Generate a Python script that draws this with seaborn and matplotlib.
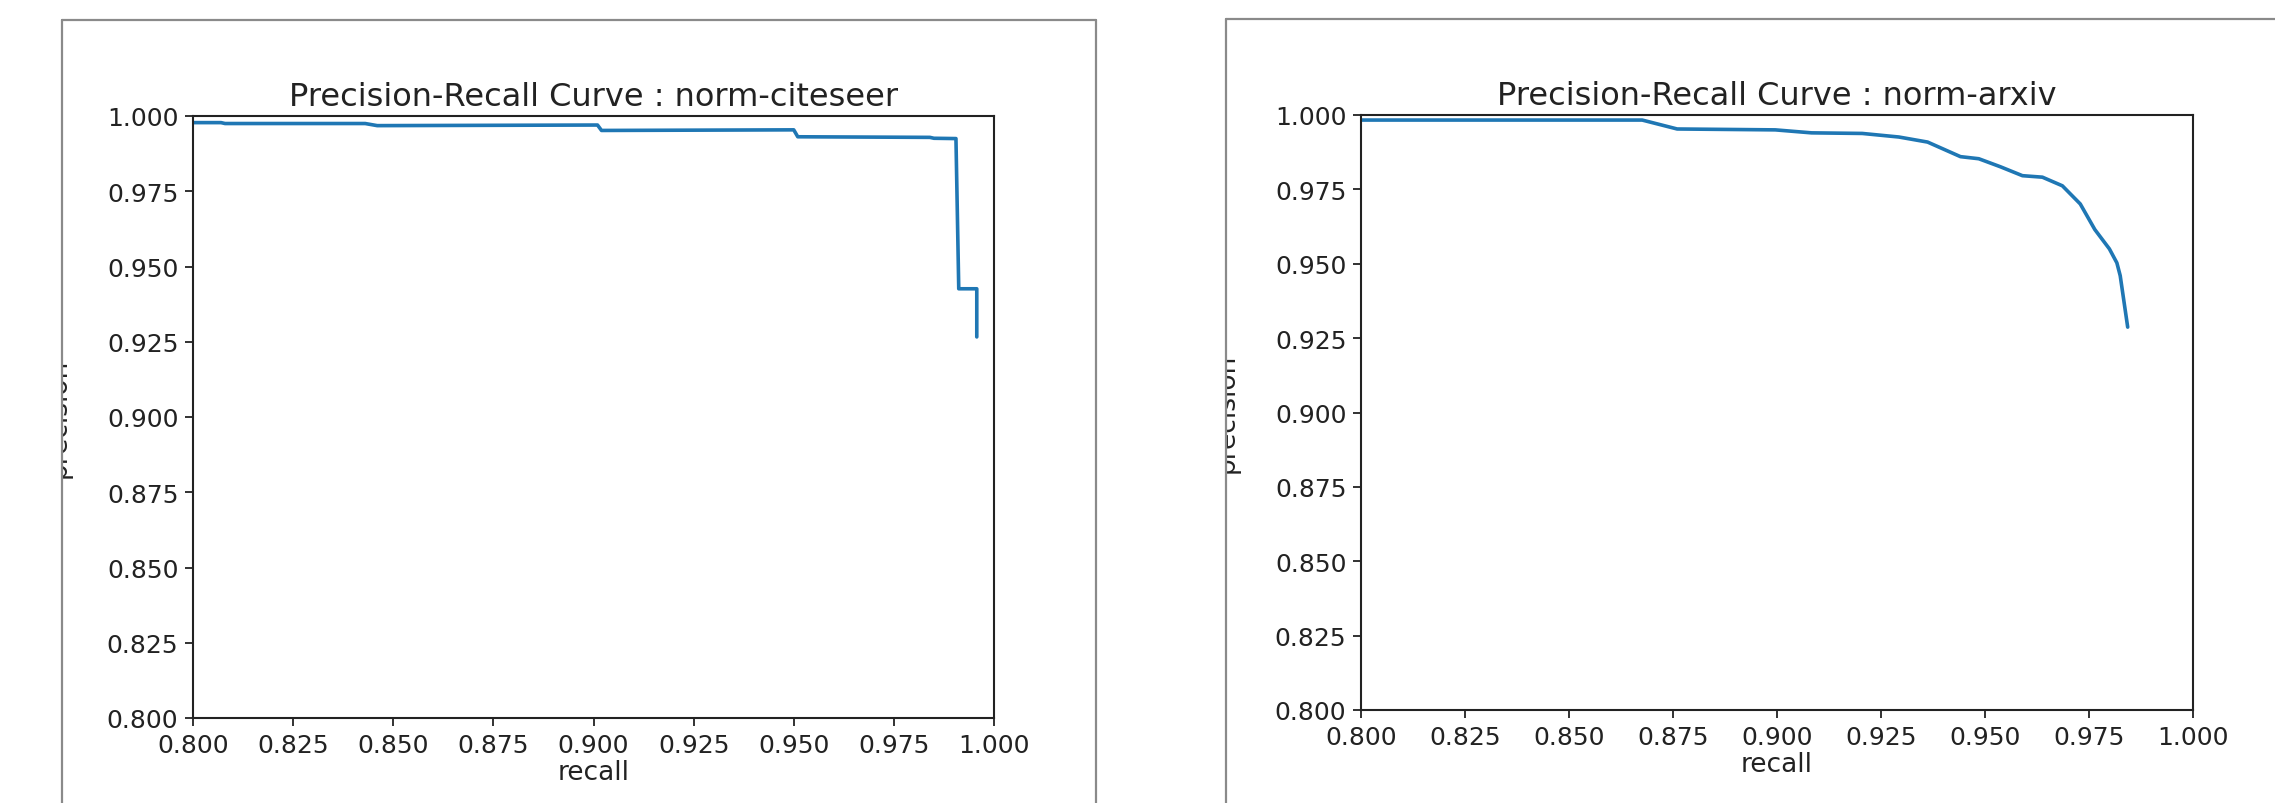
import numpy as np
import pandas as pd
import matplotlib
matplotlib.use('Agg')
import matplotlib.pyplot as plt
import seaborn as sns
from matplotlib.patches import Rectangle
from matplotlib.lines import Line2D

# values
cite_recall = [0.800, 0.807, 0.808, 0.843, 0.846, 0.901, 0.902, 0.950, 0.951,
               0.984, 0.985, 0.9905, 0.9912, 0.9957, 0.9957]
cite_precision = [0.9978, 0.9978, 0.9975, 0.9975, 0.9968, 0.9970, 0.9952, 0.9954, 0.9931,
                  0.9929, 0.9926, 0.9925, 0.9426, 0.9426, 0.9266]

arxiv_recall = [0.800, 0.8676, 0.876, 0.8996, 0.9083, 0.9205, 0.9293, 0.9362, 0.9441,
                0.9485, 0.9537, 0.959, 0.9638, 0.9686, 0.9729, 0.9764, 0.9799,
                0.9817, 0.9825, 0.9843]
arxiv_precision = [0.9983, 0.9983, 0.9953, 0.9950, 0.9940, 0.9938, 0.9926, 0.9909, 0.9860,
                   0.9853, 0.9826, 0.9796, 0.9791, 0.9762, 0.9701, 0.9615, 0.9550,
                   0.9503, 0.9460, 0.9287]

titles = ['Precision-Recall Curve : norm-citeseer', 'Precision-Recall Curve : norm-arxiv']
ticks = [0.800, 0.825, 0.850, 0.875, 0.900, 0.925, 0.950, 0.975, 1.000]

sns.set_style('ticks')
plt.rcParams['font.family'] = ['DejaVu Sans']

W, H = 2275, 804
fig = plt.figure(figsize=(W / 100, H / 100), dpi=100)
fig.patch.set_facecolor('white')

# axes boxes in pixels: left, top, right, bottom
boxes = [(193, 117, 994, 719), (1361, 116, 2193, 711)]
label_x = [-0.151, -0.1454]

datasets = [
    pd.DataFrame({'recall': cite_recall, 'precision': cite_precision}),
    pd.DataFrame({'recall': arxiv_recall, 'precision': arxiv_precision}),
]

for i, df in enumerate(datasets):
    l, t, r, b = boxes[i]
    ax = fig.add_axes([l / W, (H - b) / H, (r - l) / W, (b - t) / H])
    sns.lineplot(data=df, x='recall', y='precision', ax=ax, color='#1f77b4',
                 linewidth=2.6, sort=False, estimator=None)
    ax.set_xlim(0.8, 1.0)
    ax.set_ylim(0.8, 1.0)
    ax.set_xticks(ticks)
    ax.set_yticks(ticks)
    ax.set_xticklabels([f'{v:.3f}' for v in ticks])
    ax.set_yticklabels([f'{v:.3f}' for v in ticks])
    ax.tick_params(labelsize=18, length=5.5, width=1.3, colors='#222222', pad=5)
    for sp in ax.spines.values():
        sp.set_linewidth(1.5)
        sp.set_color('#222222')
    ax.set_title(titles[i], fontsize=23, pad=8, color='#222222')
    ax.set_xlabel('recall', fontsize=19, labelpad=2, color='#222222')
    ax.set_ylabel('precision', fontsize=19, color='#222222')
    ax.yaxis.set_label_coords(label_x[i], 0.5)

# white masks that clip the y labels like the screenshot frames do
fig.add_artist(Rectangle((0, 0), 61 / W, 1, transform=fig.transFigure,
                         facecolor='white', edgecolor='none', zorder=5))
fig.add_artist(Rectangle((1098 / W, 0), (1225 - 1098) / W, 1, transform=fig.transFigure,
                         facecolor='white', edgecolor='none', zorder=5))

# gray screenshot frames
frame_kw = dict(transform=fig.transFigure, color='#8a8a8a', linewidth=1.6, zorder=6)
fig.add_artist(Line2D([62 / W, 62 / W], [0, (H - 21) / H], **frame_kw))
fig.add_artist(Line2D([62 / W, 1096 / W], [(H - 21) / H, (H - 21) / H], **frame_kw))
fig.add_artist(Line2D([1096 / W, 1096 / W], [0, (H - 21) / H], **frame_kw))
fig.add_artist(Line2D([1226 / W, 1226 / W], [0, (H - 20) / H], **frame_kw))
fig.add_artist(Line2D([1226 / W, 1], [(H - 20) / H, (H - 20) / H], **frame_kw))

fig.savefig('out.png', dpi=100, facecolor='white')
